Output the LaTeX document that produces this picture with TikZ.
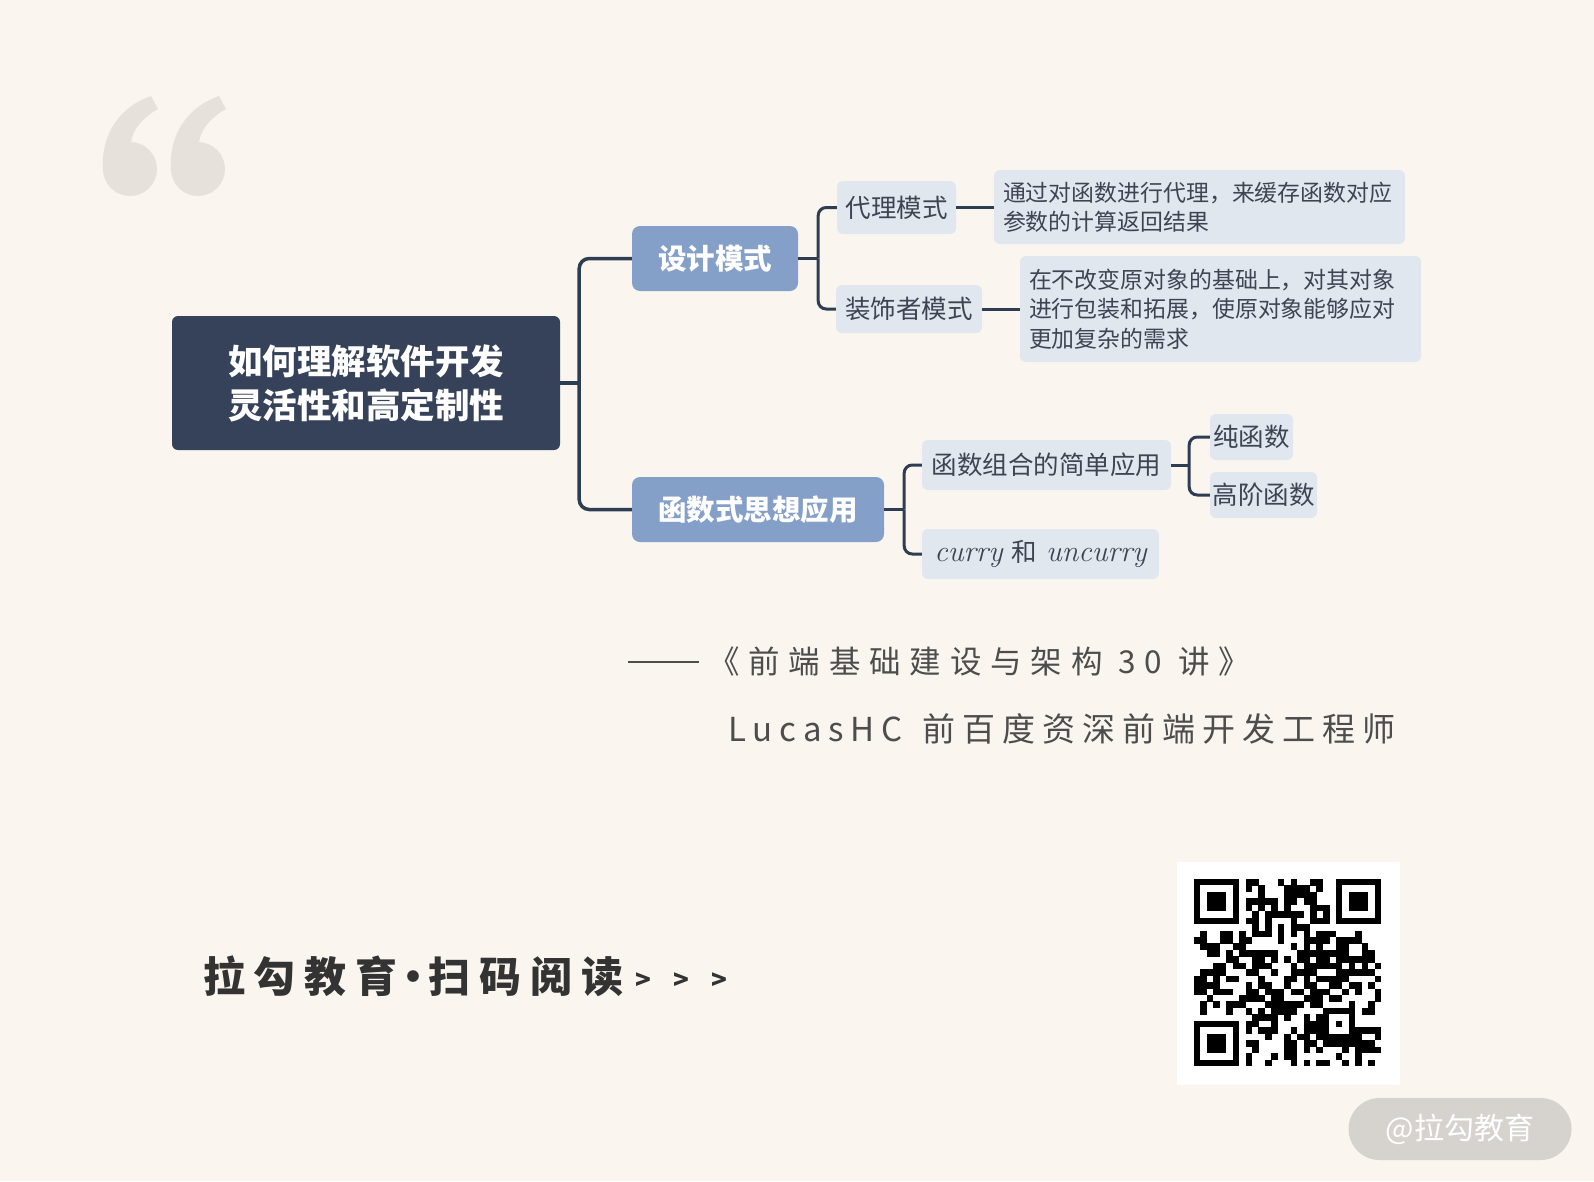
\documentclass[tikz,border=0pt]{standalone}
\usepackage{fontspec}
\usetikzlibrary{positioning}
\newfontfamily\cjk{Noto Sans CJK SC}
\newfontfamily\citefont{Noto Sans CJK SC}[LetterSpace=28]
\newfontfamily\authfont{Noto Sans CJK SC}[LetterSpace=21]
\newfontfamily\slogfont{Noto Sans CJK SC}[LetterSpace=21]
\definecolor{paper}{HTML}{FAF6EF}
\definecolor{rootblue}{HTML}{354259}
\definecolor{midblue}{HTML}{849FC8}
\definecolor{paleblue}{HTML}{E0E7EF}
\definecolor{linkblue}{HTML}{2F3D52}
\definecolor{leaftext}{HTML}{3D4553}
\definecolor{quotegray}{HTML}{E6E2DB}
\definecolor{citegray}{HTML}{4D4D4D}
\definecolor{pillgray}{HTML}{D6D3CE}

\begin{document}
\begin{tikzpicture}[x=1pt,y=-1pt,
  rootbox/.style={fill=rootblue,rounded corners=6pt,text=white,inner sep=0pt,
    align=center,font=\cjk\bfseries\fontsize{34.5}{44}\selectfont},
  topicbox/.style={fill=midblue,rounded corners=8pt,text=white,inner sep=0pt,
    minimum height=65pt,font=\cjk\bfseries\fontsize{28.5}{34}\selectfont},
  leafbox/.style={fill=paleblue,rounded corners=6pt,text=leaftext,inner sep=0pt,
    font=\cjk\fontsize{25.5}{30}\selectfont},
  descbox/.style={fill=paleblue,rounded corners=6pt,text=leaftext,inner xsep=9pt,
    inner ysep=0pt,align=left,font=\cjk\fontsize{22.9}{29.5}\selectfont},
  link/.style={draw=linkblue,line width=3pt},
  wmarkbox/.style={fill=pillgray,rounded corners=31pt,text=white,inner sep=0pt,
    minimum width=223pt,minimum height=62pt,font=\cjk\fontsize{30}{30}\selectfont}]
  % bounding box
  \useasboundingbox (0,0) rectangle (1594,1181);
  \fill[paper] (0,0) rectangle (1594,1181);
  % Quote mark
  \fill[quotegray] (130,169) circle (27);
  \fill[quotegray] (103,172) .. controls (100,132) and (122,106) .. (151,96)
    -- (158,109) .. controls (140,119) and (130,134) .. (131,146) -- cycle;
  \fill[quotegray] (198,169) circle (27);
  \fill[quotegray] (171,172) .. controls (168,132) and (190,106) .. (219,96)
    -- (226,109) .. controls (208,119) and (198,134) .. (199,146) -- cycle;
  % Root and topics
  \node[rootbox,minimum width=388pt,minimum height=134pt] (root) at (366,383)
    {如何理解软件开发\\灵活性和高定制性};
  \node[topicbox,minimum width=166pt] (design) at (715,258.5) {设计模式};
  \node[topicbox,minimum width=252pt] (func) at (758,509.5) {函数式思想应用};
  % Leaves
  \node[leafbox,minimum width=119pt,minimum height=53pt] (proxy) at (896.5,207.5) {代理模式};
  \node[leafbox,minimum width=146pt,minimum height=48pt] (deco) at (909,309) {装饰者模式};
  \node[descbox,text width=393pt,minimum height=74pt] (proxydesc) at (1199.5,207)
    {通过对函数进行代理，来缓存函数对应\\参数的计算返回结果};
  \node[descbox,text width=383pt,minimum height=106pt] (decodesc) at (1220.5,309)
    {在不改变原对象的基础上，对其对象\\进行包装和拓展，使原对象能够应对\\更加复杂的需求};
  \node[leafbox,minimum width=237pt,minimum height=50pt] (curry) at (1040.5,554)
    {{\normalfont\fontsize{30}{30}\selectfont\itshape curry}\hspace{9pt}和\hspace{9pt}{\normalfont\fontsize{30}{30}\selectfont\itshape uncurry}};
  \node[leafbox,minimum width=249pt,minimum height=50pt] (combo) at (1046.5,465) {函数组合的简单应用};
  \node[leafbox,minimum width=83pt,minimum height=46pt] (pure) at (1251.5,437) {纯函数};
  \node[leafbox,minimum width=107pt,minimum height=46pt] (higher) at (1263.5,495) {高阶函数};
  % Connectors
  \coordinate (jroot) at ([xshift=19pt]root.east);
  \draw[link,line width=3.5pt] (root.east) -- (jroot);
  \draw[link,line width=3.5pt,rounded corners=10pt] (jroot) |- (design.west);
  \draw[link,line width=3.5pt,rounded corners=10pt] (jroot) |- (func.west);
  \coordinate (jdesign) at ([xshift=20pt]design.east);
  \draw[link] (design.east) -- (jdesign);
  \draw[link,rounded corners=8pt] (jdesign) |- (proxy.west);
  \draw[link,rounded corners=8pt] (jdesign) |- (deco.west);
  \draw[link] (proxy.east) -- (proxy.east -| proxydesc.west);
  \draw[link] (deco.east) -- (deco.east -| decodesc.west);
  \coordinate (jfunc) at ([xshift=20pt]func.east);
  \draw[link] (func.east) -- (jfunc);
  \draw[link,rounded corners=8pt] (jfunc) |- (combo.west);
  \draw[link,rounded corners=8pt] (jfunc) |- (curry.west);
  \coordinate (jcombo) at ([xshift=18pt]combo.east);
  \draw[link] (combo.east) -- (jcombo);
  \draw[link,rounded corners=8pt] (jcombo) |- (pure.west);
  \draw[link,rounded corners=8pt] (jcombo) |- (higher.west);
  % Citation
  \node[anchor=west,inner sep=0pt,text=citegray,font=\citefont\fontsize{31.5}{31.5}\selectfont]
    (booktitle) at (708,662) {《前端基础建设与架构 30 讲》};
  \draw[citegray,line width=1.6pt] ([xshift=-80pt]booktitle.west) -- ([xshift=-9pt]booktitle.west);
  \node[anchor=west,inner sep=0pt,text=citegray,font=\authfont\fontsize{33}{33}\selectfont]
    (author) at (728,729) {LucasHC\hspace{20pt}前百度资深前端开发工程师};
  % Slogan
  \node[anchor=west,inner sep=0pt,text=black!80,font=\slogfont\bfseries\fontsize{42}{42}\selectfont]
    (slogan) at (203,976) {拉勾教育\kern-5pt·\kern-6pt扫码阅读};
  \node[right=12pt of slogan,yshift=-5pt,inner sep=0pt,text=black!80,
    font=\cjk\bfseries\fontsize{26}{26}\selectfont] (more) {>\hspace{22pt}>\hspace{22pt}>};
  % QR code
  \fill[white] (1177,862) rectangle (1400,1085);
  \begin{scope}[shift={(1194,879)}]
    \foreach \fc/\fr in {0/0,22/0,0/22}{
      \fill[black] (\fc*6.45,\fr*6.45) rectangle ++(7*6.45,7*6.45);
      \fill[white] (\fc*6.45+6.45,\fr*6.45+6.45) rectangle ++(5*6.45,5*6.45);
      \fill[black] (\fc*6.45+12.9,\fr*6.45+12.9) rectangle ++(3*6.45,3*6.45);
    }
    \fill[black] (20*6.45,20*6.45) rectangle ++(5*6.45,5*6.45);
    \fill[white] (21*6.45,21*6.45) rectangle ++(3*6.45,3*6.45);
    \fill[black] (22*6.45,22*6.45) rectangle ++(6.45,6.45);
    \pgfmathsetseed{2024}
    \foreach \r in {0,...,28}{
      \foreach \c in {0,...,28}{
        \pgfmathtruncatemacro\skipit{((\r<8)&&(\c<8))||((\r<8)&&(\c>20))||((\r>20)&&(\c<8))||((\r>19)&&(\r<25)&&(\c>19)&&(\c<25))}
        \pgfmathtruncatemacro\bit{rnd<0.52}
        \ifnum\skipit=0 \ifnum\bit=1
          \fill[black] (\c*6.45-0.1,\r*6.45-0.1) rectangle ++(6.65,6.65);
        \fi\fi
      }
    }
  \end{scope}
  % Watermark
  \node[wmarkbox] (wmark) at (1460,1129) {@拉勾教育};
\end{tikzpicture}
\end{document}
